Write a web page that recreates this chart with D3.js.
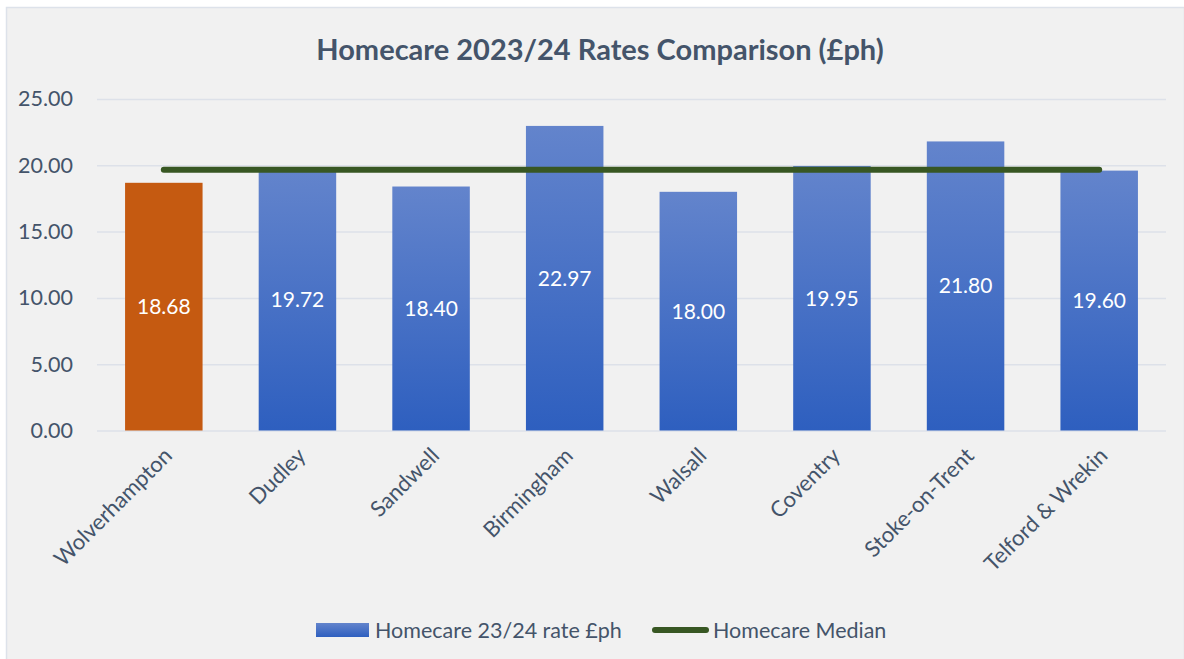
<!DOCTYPE html>
<meta charset="utf-8">
<head>
    <script src="https://d3js.org/d3.v7.min.js"></script>
    <style>
    body { margin: 0; background: #ffffff; }
    text { font-family: Lato, "Noto Sans", sans-serif; }
    </style>
</head>
<body>
    <script>
    // chart data
    var categories = ["Wolverhampton", "Dudley", "Sandwell", "Birmingham", "Walsall", "Coventry", "Stoke-on-Trent", "Telford & Wrekin"];
    var rates = [18.68, 19.72, 18.40, 22.97, 18.00, 19.95, 21.80, 19.60];
    var medianRate = 19.66;
    var yTicks = [0, 5, 10, 15, 20, 25];
    var seriesNames = ["Homecare 23/24 rate £ph", "Homecare Median"];
    var chartTitle = "Homecare 2023/24 Rates Comparison (£ph)";

    var W = 1184, H = 659;
    var plot = { left: 97, right: 1166, top: 99, bottom: 430.5 };
    var textColor = "#44546a";

    var svg = d3.select("body").append("svg")
        .attr("width", W)
        .attr("height", H);

    // gradient for the blue bars
    var grad = svg.append("defs").append("linearGradient")
        .attr("id", "barGrad")
        .attr("x1", 0).attr("y1", 0).attr("x2", 0).attr("y2", 1);
    grad.append("stop").attr("offset", "0%").attr("stop-color", "#6384cc");
    grad.append("stop").attr("offset", "100%").attr("stop-color", "#2e5fbf");

    // chart panel
    svg.append("rect")
        .attr("x", 6.5).attr("y", 7.5)
        .attr("width", W - 6).attr("height", H)
        .attr("fill", "#f1f1f1")
        .attr("stroke", "#dde2ea")
        .attr("stroke-width", 1.5);

    // scales
    var x = d3.scaleBand()
        .domain(categories)
        .range([plot.left, plot.right])
        .paddingInner(0.42)
        .paddingOuter(0.21);
    var y = d3.scaleLinear()
        .domain([0, 25])
        .range([plot.bottom, plot.top]);

    // title
    svg.append("text")
        .attr("x", 600)
        .attr("y", 60)
        .attr("text-anchor", "middle")
        .style("font-size", "29px")
        .style("font-weight", "bold")
        .style("fill", textColor)
        .text(chartTitle);

    // gridlines + y axis labels
    var yAxis = svg.append("g")
        .attr("transform", "translate(" + plot.left + ",0)")
        .call(d3.axisLeft(y).tickValues(yTicks).tickSize(-(plot.right - plot.left)).tickPadding(24)
            .tickFormat(d3.format(".2f")));
    yAxis.select(".domain").remove();
    yAxis.selectAll("line").attr("stroke", "#dde1e9").attr("stroke-width", 1.5);
    yAxis.selectAll("text")
        .style("font-size", "21.5px")
        .style("font-family", "Lato, 'Noto Sans', sans-serif")
        .attr("fill", textColor);

    // bars
    svg.selectAll(".bar")
        .data(rates)
        .enter().append("rect")
        .attr("class", "bar")
        .attr("x", function(d, i) { return x(categories[i]); })
        .attr("width", x.bandwidth())
        .attr("y", function(d) { return y(d); })
        .attr("height", function(d) { return y(0) - y(d); })
        .attr("fill", function(d, i) { return i === 0 ? "#c55a11" : "url(#barGrad)"; });

    // value labels inside bars
    svg.selectAll(".lbl")
        .data(rates)
        .enter().append("text")
        .attr("class", "lbl")
        .attr("x", function(d, i) { return x(categories[i]) + x.bandwidth() / 2; })
        .attr("y", function(d) { return (y(d) + y(0)) / 2; })
        .attr("dy", "0.35em")
        .attr("text-anchor", "middle")
        .style("font-size", "21px")
        .style("fill", "#ffffff")
        .text(function(d) { return d.toFixed(2); });

    // median line
    var mid = function(c) { return x(c) + x.bandwidth() / 2; };
    svg.append("line")
        .attr("x1", mid(categories[0]))
        .attr("x2", mid(categories[categories.length - 1]))
        .attr("y1", y(medianRate))
        .attr("y2", y(medianRate))
        .attr("stroke", "#385723")
        .attr("stroke-width", 6)
        .attr("stroke-linecap", "round");

    // x axis labels rotated
    svg.selectAll(".xl")
        .data(categories)
        .enter().append("text")
        .attr("class", "xl")
        .attr("transform", function(d) {
            return "translate(" + (mid(d) - 2) + "," + (plot.bottom + 15) + ") rotate(-45)";
        })
        .attr("text-anchor", "end")
        .attr("dy", "0.75em")
        .style("font-size", "22px")
        .style("fill", textColor)
        .text(function(d) { return d; });

    // legend
    var lg = svg.append("g");
    lg.append("rect")
        .attr("x", 316).attr("y", 623)
        .attr("width", 53).attr("height", 14)
        .attr("fill", "url(#barGrad)");
    lg.append("text")
        .attr("x", 375).attr("y", 638)
        .style("font-size", "21.5px")
        .style("fill", textColor)
        .text(seriesNames[0]);
    lg.append("line")
        .attr("x1", 655).attr("x2", 706)
        .attr("y1", 630).attr("y2", 630)
        .attr("stroke", "#385723")
        .attr("stroke-width", 6)
        .attr("stroke-linecap", "round");
    lg.append("text")
        .attr("x", 713).attr("y", 638)
        .style("font-size", "21.5px")
        .style("fill", textColor)
        .text(seriesNames[1]);
    </script>
</body>
</html>
